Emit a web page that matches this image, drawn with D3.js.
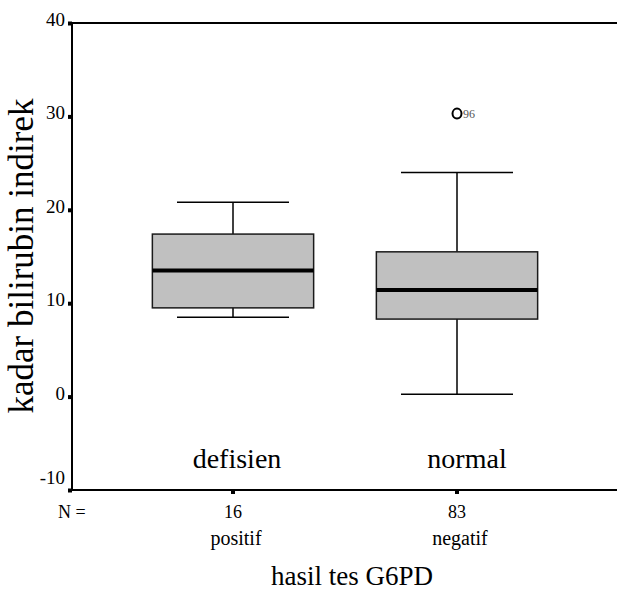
<!DOCTYPE html>
<html>
<head>
<meta charset="utf-8">
<script src="https://cdn.jsdelivr.net/npm/d3@7"></script>
<style>
  body { margin: 0; background: #fff; }
  svg, svg text { font-family: 'Liberation Serif', serif; }
</style>
</head>
<body>
<div id="chart"></div>
<script>
// Données
const groups = ["positif", "negatif"];
const groupLabels = ["defisien", "normal"];
const counts = [16, 83];
const lowerWhisker = [8.5, 0.25];
const q1 = [9.5, 8.3];
const median = [13.5, 11.4];
const q3 = [17.4, 15.5];
const upperWhisker = [20.8, 24.0];
const outliers = [{ group: "negatif", value: 30.3, label: "96" }];
const yTicks = [40, 30, 20, 10, 0, -10];

const width = 617;
const height = 594;
const plotLeft = 72, plotRight = 617, plotTop = 23, plotBottom = 490;
const serif = 'Liberation Serif';

const svg = d3.select('#chart').append('svg')
  .attr('width', width)
  .attr('height', height)
  .attr('font-family', serif);

// Échelles
const y = d3.scaleLinear().domain([-10, 40]).range([plotBottom, plotTop]);
const x = d3.scaleBand().domain(groups).range([121, 569]).padding(0);
const boxW = x.bandwidth() * 0.72;
const capW = x.bandwidth() * 0.5;
const cx = d => x(d) + x.bandwidth() / 2;

// Cadre : axe gauche, ligne du haut, axe du bas
svg.append('line').attr('x1', plotLeft).attr('x2', plotLeft).attr('y1', plotTop).attr('y2', plotBottom)
  .attr('stroke', '#000').attr('stroke-width', 2);
svg.append('line').attr('x1', plotLeft).attr('x2', plotRight).attr('y1', plotTop).attr('y2', plotTop)
  .attr('stroke', '#000').attr('stroke-width', 2);
svg.append('line').attr('x1', plotLeft).attr('x2', plotRight).attr('y1', plotBottom).attr('y2', plotBottom)
  .attr('stroke', '#000').attr('stroke-width', 2);

// Graduations de l'axe Y
const yTick = svg.append('g').selectAll('g').data(yTicks).join('g')
  .attr('transform', d => `translate(${plotLeft}, ${y(d)})`);
yTick.append('rect').attr('x', -4).attr('y', -1.5).attr('width', 4).attr('height', 4).attr('fill', '#000');
yTick.append('text')
  .attr('x', -7)
  .attr('y', d => d === d3.min(yTicks) ? -6 : 3)
  .attr('text-anchor', 'end')
  .attr('font-family', serif)
  .attr('font-size', 19)
  .text(d => d);

// Graduations de l'axe X
svg.append('g').selectAll('rect').data(groups).join('rect')
  .attr('x', d => cx(d) - 2)
  .attr('y', plotBottom)
  .attr('width', 4).attr('height', 4)
  .attr('fill', '#000');

// Boîtes
const box = svg.append('g').selectAll('g').data(groups).join('g');

box.append('line')
  .attr('x1', cx).attr('x2', cx)
  .attr('y1', (d, i) => y(upperWhisker[i])).attr('y2', (d, i) => y(q3[i]))
  .attr('stroke', '#000').attr('stroke-width', 1.5);
box.append('line')
  .attr('x1', cx).attr('x2', cx)
  .attr('y1', (d, i) => y(q1[i])).attr('y2', (d, i) => y(lowerWhisker[i]))
  .attr('stroke', '#000').attr('stroke-width', 1.5);
box.append('line')
  .attr('x1', d => cx(d) - capW / 2).attr('x2', d => cx(d) + capW / 2)
  .attr('y1', (d, i) => y(upperWhisker[i])).attr('y2', (d, i) => y(upperWhisker[i]))
  .attr('stroke', '#000').attr('stroke-width', 1.5);
box.append('line')
  .attr('x1', d => cx(d) - capW / 2).attr('x2', d => cx(d) + capW / 2)
  .attr('y1', (d, i) => y(lowerWhisker[i])).attr('y2', (d, i) => y(lowerWhisker[i]))
  .attr('stroke', '#000').attr('stroke-width', 1.5);
box.append('rect')
  .attr('x', d => cx(d) - boxW / 2)
  .attr('width', boxW)
  .attr('y', (d, i) => y(q3[i]))
  .attr('height', (d, i) => y(q1[i]) - y(q3[i]))
  .attr('fill', '#c0c0c0')
  .attr('stroke', '#1a1a1a').attr('stroke-width', 1.5);
box.append('line')
  .attr('x1', d => cx(d) - boxW / 2).attr('x2', d => cx(d) + boxW / 2)
  .attr('y1', (d, i) => y(median[i])).attr('y2', (d, i) => y(median[i]))
  .attr('stroke', '#000').attr('stroke-width', 4);

// Valeurs aberrantes
const out = svg.append('g').selectAll('g').data(outliers).join('g')
  .attr('transform', d => `translate(${cx(d.group)}, ${y(d.value)})`);
out.append('ellipse').attr('rx', 4.5).attr('ry', 5)
  .attr('fill', 'none').attr('stroke', '#000').attr('stroke-width', 2);
out.append('text').attr('x', 6).attr('y', 4)
  .attr('font-family', serif)
  .attr('font-size', 12).attr('fill', '#555')
  .text(d => d.label);

// Étiquettes des groupes dans la zone de tracé (légèrement décalées à droite)
const labelShift = [4, 10];
svg.append('g').selectAll('text').data(groups).join('text')
  .attr('x', (d, i) => cx(d) + labelShift[i]).attr('y', 468)
  .attr('text-anchor', 'middle')
  .attr('font-family', serif)
  .attr('font-size', 28)
  .text((d, i) => groupLabels[i]);

// Effectifs et catégories sous l'axe
svg.append('text').attr('x', 58).attr('y', 518)
  .attr('font-family', serif).attr('font-size', 18).text('N =');
svg.append('g').selectAll('text').data(groups).join('text')
  .attr('x', cx).attr('y', 518)
  .attr('text-anchor', 'middle')
  .attr('font-family', serif)
  .attr('font-size', 18)
  .text((d, i) => counts[i]);
svg.append('g').selectAll('text').data(groups).join('text')
  .attr('x', d => cx(d) + 3).attr('y', 545)
  .attr('text-anchor', 'middle')
  .attr('font-family', serif)
  .attr('font-size', 20)
  .text(d => d);

// Titres des axes
svg.append('text')
  .attr('x', 352).attr('y', 585)
  .attr('text-anchor', 'middle')
  .attr('font-family', serif)
  .attr('font-size', 27)
  .text('hasil tes G6PD');
svg.append('text')
  .attr('transform', 'translate(33, 256) rotate(-90)')
  .attr('text-anchor', 'middle')
  .attr('font-family', serif)
  .attr('font-size', 35)
  .text('kadar bilirubin indirek');
</script>
</body>
</html>
